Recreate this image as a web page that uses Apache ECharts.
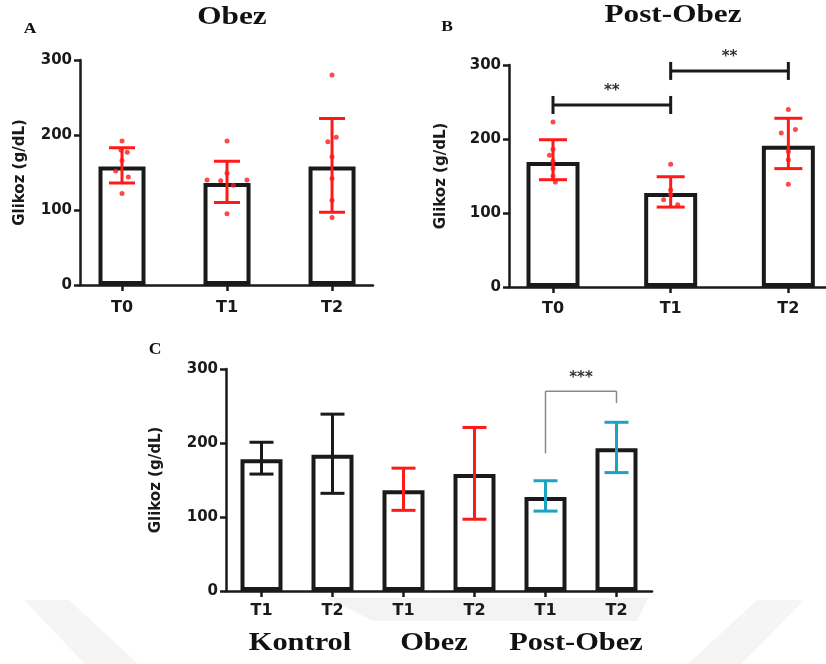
<!DOCTYPE html>
<html>
<head>
<meta charset="utf-8">
<script src="https://cdn.jsdelivr.net/npm/echarts@6.0.0/dist/echarts.min.js"></script>
<style>
html, body { margin: 0; padding: 0; background: #fff; }
#chart { width: 826px; height: 664px; }
</style>
</head>
<body>
<div id="chart"></div>
<script>
// --- data ---
// A: Obez
var obezCats = ['T0', 'T1', 'T2'];
var obezMean = [158, 136, 158];
var obezHi = [183, 165, 222];
var obezLo = [136, 110, 97];
var obezPts = [
  [192, 180, 177, 166, 152, 144, 122],
  [192, 149, 140, 139, 140, 133, 95],
  [280, 197, 191, 171, 142, 113, 90]
];
var obezJit = [
  [0, -0.01, 0.05, 0, -0.06, 0.06, 0],
  [0, 0, -0.19, -0.06, 0.19, 0.06, 0],
  [0, 0.04, -0.04, 0, 0, 0, 0]
];

// B: Post-Obez
var postCats = ['T0', 'T1', 'T2'];
var postMean = [169, 127, 191];
var postHi = [199, 149, 228];
var postLo = [145, 108, 160];
var postPts = [
  [223, 186, 178, 170, 160, 150, 142],
  [166, 131, 125, 118, 111],
  [240, 213, 208, 183, 172, 139]
];
var postJit = [
  [0, 0, -0.03, 0, 0, 0, 0.02],
  [0, 0, 0, -0.06, 0.06],
  [0, 0.06, -0.06, 0, 0, 0]
];
var postSig = [[0, 1, 246], [1, 2, 292]];
var postSigText = ['**', '**'];

// C: all groups
var allCats = ['T1', 'T2', 'T1', 'T2', 'T1', 'T2'];
var allGroups = ['Kontrol', 'Obez', 'Post-Obez'];
var allMean = [178, 184, 136, 158, 127, 193];
var allHi = [201, 239, 166, 221, 149, 228];
var allLo = [158, 132, 109, 97, 108, 160];
var allSig = [[4, 5, 270, 186, 254]];
var allSigText = ['***'];

// --- styles ---
var INK = '#1a1a1a';
var RED = '#ff1a1a';
var TEAL = '#1ba3c2';
var SANS = 'DejaVu Sans';
var SERIF = 'Liberation Serif';
var groupColor = [INK, INK, RED, RED, TEAL, TEAL];

function yAxisFor(grid, gap) {
  return {
    type: 'value', gridIndex: grid, min: 0, max: 300, interval: 100,
    name: 'Glikoz (g/dL)', nameLocation: 'middle', nameGap: gap,
    nameTextStyle: { fontFamily: SANS, fontWeight: 'bold', fontSize: 15, color: INK },
    axisLine: { show: true, onZero: false, lineStyle: { color: INK, width: 2.5 } },
    axisTick: { show: true, length: 6, lineStyle: { color: INK, width: 2.5 } },
    axisLabel: { fontFamily: SANS, fontWeight: 'bold', fontSize: 15, color: INK, margin: 8 },
    splitLine: { show: false }
  };
}

function xAxisFor(grid, cats, min, max, margin) {
  var vals = cats.map(function (c, i) { return i; });
  return {
    type: 'value', gridIndex: grid, min: min, max: max,
    axisLine: { show: true, onZero: false, lineStyle: { color: INK, width: 2.5 } },
    axisTick: { show: true, customValues: vals, length: 6, lineStyle: { color: INK, width: 2.5 } },
    axisLabel: {
      customValues: vals, margin: margin,
      fontFamily: SANS, fontWeight: 'bold', fontSize: 16, color: INK,
      formatter: function (v) { return cats[Math.round(v)]; }
    },
    splitLine: { show: false }
  };
}

function barSeries(idx, means, width) {
  return {
    type: 'bar', xAxisIndex: idx, yAxisIndex: idx, barWidth: width, z: 2,
    itemStyle: { color: '#fff', borderColor: INK, borderWidth: 4 },
    data: means.map(function (v, i) { return [i, v]; })
  };
}

function errSeries(idx, hi, lo, colors, cap) {
  return {
    type: 'custom', xAxisIndex: idx, yAxisIndex: idx, z: 3,
    data: hi.map(function (h, i) { return [i, h, lo[i]]; }),
    renderItem: function (params, api) {
      var x = api.value(0);
      var t = api.coord([x, api.value(1)]);
      var b = api.coord([x, api.value(2)]);
      var st = { stroke: colors[params.dataIndex], lineWidth: 3 };
      return {
        type: 'group', children: [
          { type: 'line', shape: { x1: t[0], y1: t[1], x2: b[0], y2: b[1] }, style: st },
          { type: 'line', shape: { x1: t[0] - cap, y1: t[1], x2: t[0] + cap, y2: t[1] }, style: st },
          { type: 'line', shape: { x1: b[0] - cap, y1: b[1], x2: b[0] + cap, y2: b[1] }, style: st }
        ]
      };
    }
  };
}

function dotSeries(idx, pts, jit) {
  var data = [];
  pts.forEach(function (list, i) {
    list.forEach(function (v, k) { data.push([i + jit[i][k], v]); });
  });
  return {
    type: 'scatter', xAxisIndex: idx, yAxisIndex: idx, z: 4,
    symbolSize: 5, itemStyle: { color: RED }, data: data
  };
}

function sigSeries(idx, sig, texts, style) {
  return {
    type: 'custom', xAxisIndex: idx, yAxisIndex: idx, z: 5,
    data: sig,
    renderItem: function (params, api) {
      var y = api.value(2);
      var l = api.coord([api.value(0), y]);
      var r = api.coord([api.value(1), y]);
      var st = { stroke: style.color, lineWidth: style.width };
      var kids = [{ type: 'line', shape: { x1: l[0], y1: l[1], x2: r[0], y2: r[1] }, style: st }];
      if (style.legs) {
        var ll = api.coord([api.value(0), api.value(3)]);
        var rl = api.coord([api.value(1), api.value(4)]);
        kids.push({ type: 'line', shape: { x1: l[0], y1: l[1], x2: ll[0], y2: ll[1] }, style: st });
        kids.push({ type: 'line', shape: { x1: r[0], y1: r[1], x2: rl[0], y2: rl[1] }, style: st });
      } else {
        kids.push({ type: 'line', shape: { x1: l[0], y1: l[1] - 9, x2: l[0], y2: l[1] + 9 }, style: st });
        kids.push({ type: 'line', shape: { x1: r[0], y1: r[1] - 9, x2: r[0], y2: r[1] + 9 }, style: st });
      }
      kids.push({
        type: 'text', x: (l[0] + r[0]) / 2, y: l[1] - 6,
        style: {
          text: texts[params.dataIndex], fill: '#333', font: 'bold 15px "DejaVu Sans"',
          align: 'center', verticalAlign: 'bottom'
        }
      });
      return { type: 'group', children: kids };
    }
  };
}

function label(text, x, y, size, sx, weight) {
  return {
    type: 'text', x: x, y: y, scaleX: sx, z: 10,
    style: {
      text: text, fill: '#111', font: (weight || 'bold') + ' ' + size + 'px "' + SERIF + '"',
      align: 'center', verticalAlign: 'middle'
    }
  };
}

var chart = echarts.init(document.getElementById('chart'));

var option = {
  animation: false,
  backgroundColor: '#fff',
  grid: [
    { left: 80, top: 60, width: 293, height: 225 },
    { left: 509, top: 65, width: 317, height: 222 },
    { left: 226, top: 369, width: 426, height: 222 }
  ],
  xAxis: [
    xAxisFor(0, obezCats, -0.4, 2.39, 15),
    xAxisFor(1, postCats, -0.374, 2.32, 14),
    xAxisFor(2, allCats, -0.5, 5.5, 12)
  ],
  yAxis: [yAxisFor(0, 52), yAxisFor(1, 60), yAxisFor(2, 62)],
  graphic: [
    // faint watermark behind
    { type: 'polygon', z: -10, shape: { points: [[24, 600], [69, 600], [138, 664], [85, 664]] }, style: { fill: '#f5f5f5' } },
    { type: 'polygon', z: -10, shape: { points: [[757, 600], [804, 600], [741, 664], [688, 664]] }, style: { fill: '#f5f5f5' } },
    { type: 'polygon', z: -10, shape: { points: [[327, 598], [648, 598], [637, 621], [373, 621]] }, style: { fill: '#f3f3f3' } },
    label('Obez', 232, 18, 25, 1.25),
    label('Post-Obez', 673, 16, 25, 1.25),
    label('A', 30, 29, 14, 1.25),
    label('B', 447, 27, 14, 1.25),
    label('C', 155, 350, 16, 1.1),
    label(allGroups[0], 300, 643, 26, 1.17),
    label(allGroups[1], 434, 643, 26, 1.17),
    label(allGroups[2], 576, 643, 26, 1.17)
  ],
  series: [
    barSeries(0, obezMean, 47),
    errSeries(0, obezHi, obezLo, [RED, RED, RED], 13),
    dotSeries(0, obezPts, obezJit),

    barSeries(1, postMean, 53),
    errSeries(1, postHi, postLo, [RED, RED, RED], 14),
    dotSeries(1, postPts, postJit),
    sigSeries(1, postSig, postSigText, { color: INK, width: 3, legs: false }),

    barSeries(2, allMean, 42),
    errSeries(2, allHi, allLo, groupColor, 12),
    sigSeries(2, allSig, allSigText, { color: '#8a8a8a', width: 1.5, legs: true })
  ]
};

chart.setOption(option);
</script>
</body>
</html>
